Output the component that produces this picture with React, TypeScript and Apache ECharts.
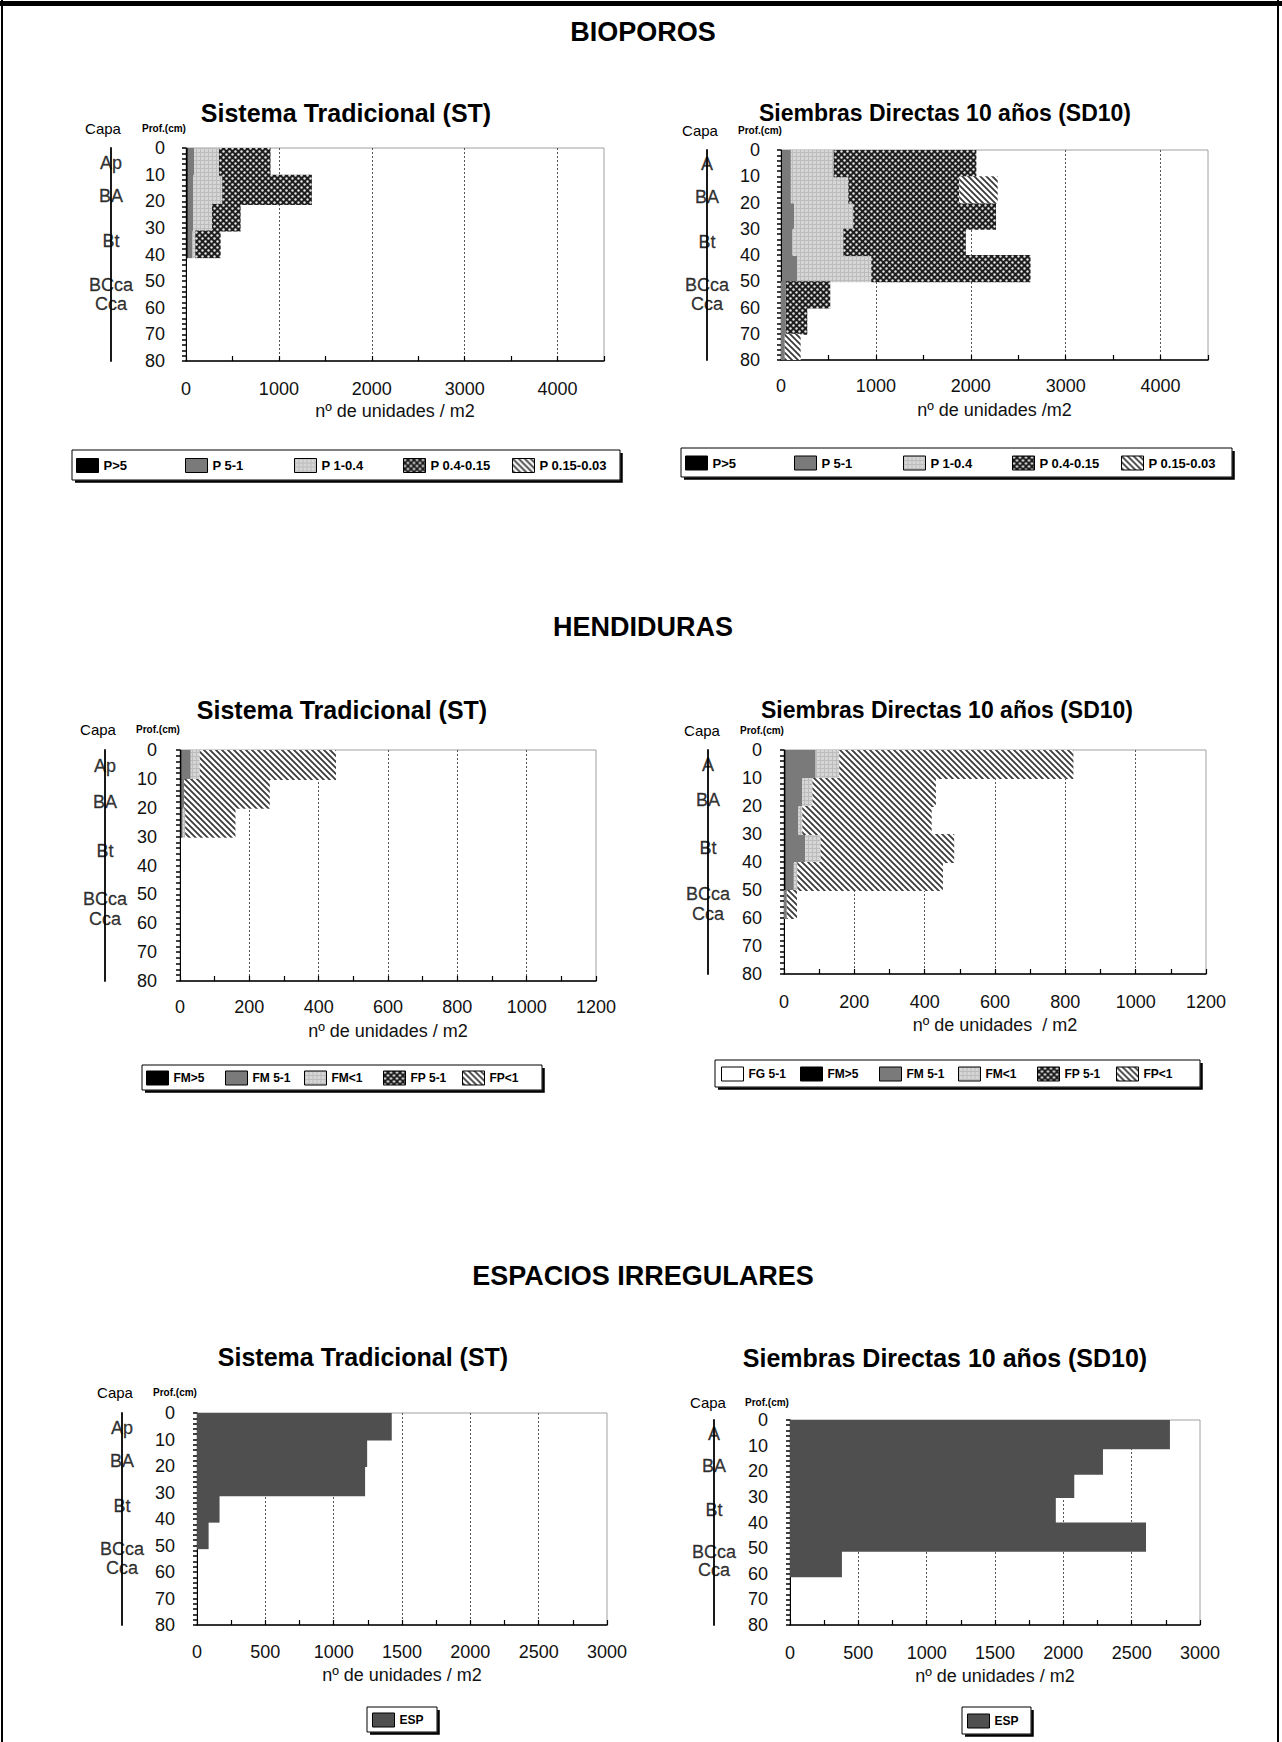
import React, { useEffect, useRef } from "react";
import * as echarts from "echarts";

const W = 1282;
const H = 1742;
const FONT = "Liberation Sans, Arial, sans-serif";

// ---------- DATA ----------
// depth boundaries (cm) of each interval
const bioST_depths = [0, 10, 21, 31, 41];
const bioSD_depths = [0, 10, 20, 30, 40, 50, 60, 70, 80];
const henST_depths = [0, 10, 20, 30];
const henSD_depths = [0, 10, 20, 30, 40, 50, 60];
const espST_depths = [0, 10, 20, 31, 41, 51];
const espSD_depths = [0, 11, 21, 30, 40, 51, 61];

// legend / series names
const bioNames = ["P>5", "P 5-1", "P 1-0.4", "P 0.4-0.15", "P 0.15-0.03"];
const henST_names = ["FM>5", "FM 5-1", "FM<1", "FP 5-1", "FP<1"];
const henSD_names = ["FG 5-1", "FM>5", "FM 5-1", "FM<1", "FP 5-1", "FP<1"];
const espNames = ["ESP"];

// BIOPOROS - Sistema Tradicional (segment widths per interval, n / m2)
const bioST_P5 = [20, 20, 20, 20];
const bioST_P51 = [66, 60, 60, 50];
const bioST_P104 = [269, 310, 200, 30];
const bioST_P04015 = [555, 965, 308, 273];
const bioST_P015003 = [0, 0, 0, 0];

// BIOPOROS - Siembras Directas 10 años
const bioSD_P5 = [10, 10, 10, 10, 10, 0, 0, 0];
const bioSD_P51 = [94, 94, 128, 111, 163, 50, 50, 40];
const bioSD_P104 = [450, 605, 623, 536, 778, 0, 0, 0];
const bioSD_P04015 = [1505, 1170, 1505, 1291, 1679, 469, 227, 0];
const bioSD_P015003 = [0, 405, 0, 0, 0, 0, 0, 167];

// HENDIDURAS - Sistema Tradicional
const henST_FM5 = [5, 5, 5];
const henST_FM51 = [26, 7, 3];
const henST_FMl1 = [26, 0, 7];
const henST_FP51 = [0, 0, 0];
const henST_FPl1 = [393, 247, 145];

// HENDIDURAS - Siembras Directas 10 años
const henSD_FG51 = [0, 0, 0, 0, 0, 0];
const henSD_FM5 = [5, 5, 5, 5, 5, 0];
const henSD_FM51 = [85, 47, 36, 55, 23, 8];
const henSD_FMl1 = [67, 29, 11, 44, 10, 0];
const henSD_FP51 = [0, 0, 0, 0, 0, 0];
const henSD_FPl1 = [666, 351, 368, 380, 414, 29];

// ESPACIOS IRREGULARES
const espST_ESP = [1425, 1245, 1230, 165, 85];
const espSD_ESP = [2780, 2290, 2080, 1945, 2605, 380];

// soil horizons (Capa) and their label depth
const capaST = ["Ap", "BA", "Bt", "BCca", "Cca"];
const capaSD = ["A", "BA", "Bt", "BCca", "Cca"];
const capaDepths = [5.5, 18, 35, 51.5, 58.5];

// axis tick labels
const depthTicks = [0, 10, 20, 30, 40, 50, 60, 70, 80];
const bioLabelStep = 1000;
const henLabelStep = 200;
const espLabelStep = 500;
const bioMax = 4500;
const henMax = 1200;
const espMax = 3000;

const sectionTitles = ["BIOPOROS", "HENDIDURAS", "ESPACIOS IRREGULARES"];
const titleST = "Sistema Tradicional (ST)";
const titleSD = "Siembras Directas 10 años (SD10)";
const xName = "nº de unidades / m2";
const xNameSD1 = "nº de unidades /m2";
const xNameSD2 = "nº de unidades  / m2";

// ---------- helpers ----------
function stackItems(depths: number[], seriesValues: number[][]) {
  const n = depths.length - 1;
  const acc = new Array(n).fill(0);
  return seriesValues.map((vals) => {
    const items: number[][] = [];
    for (let i = 0; i < n; i++) {
      const v = vals[i] || 0;
      if (v > 0) items.push([acc[i], depths[i], acc[i] + v, depths[i + 1]]);
      acc[i] += v;
    }
    return items;
  });
}

function tile(size: number, draw: (ctx: CanvasRenderingContext2D) => void) {
  const c = document.createElement("canvas");
  c.width = size;
  c.height = size;
  const ctx = c.getContext("2d") as CanvasRenderingContext2D;
  draw(ctx);
  return { image: c.toDataURL(), repeat: "repeat", imageWidth: size, imageHeight: size };
}

function buildOption() {
  const black = "#000000";
  const darkGray = "#7a7a7a";
  const white = "#ffffff";
  const espGray = "#4f4f4f";
  const light = tile(4, (ctx) => {
    ctx.fillStyle = "#d6d6d6";
    ctx.fillRect(0, 0, 4, 4);
    ctx.fillStyle = "#bcbcbc";
    ctx.fillRect(0, 0, 4, 1);
    ctx.fillRect(0, 0, 1, 4);
  });
  const check = tile(6, (ctx) => {
    ctx.fillStyle = "#1e1e1e";
    ctx.fillRect(0, 0, 6, 6);
    ctx.fillStyle = "#e6e6e6";
    [[1.5, 1.5], [4.5, 4.5]].forEach(([x, y]) => {
      ctx.beginPath();
      ctx.arc(x, y, 1.2, 0, Math.PI * 2);
      ctx.fill();
    });
  });
  const hatch = tile(6, (ctx) => {
    ctx.fillStyle = "#ffffff";
    ctx.fillRect(0, 0, 6, 6);
    ctx.strokeStyle = "#3a3a3a";
    ctx.lineWidth = 1.8;
    ctx.beginPath();
    ctx.moveTo(-1, -1);
    ctx.lineTo(7, 7);
    ctx.moveTo(-1, 5);
    ctx.lineTo(1, 7);
    ctx.moveTo(5, -1);
    ctx.lineTo(7, 1);
    ctx.stroke();
  });

  const bioFills = [black, darkGray, light, check, hatch];
  const henSTFills = [black, darkGray, light, check, hatch];
  const henSDFills = [white, black, darkGray, light, check, hatch];

  const charts = [
    {
      depths: bioST_depths, names: bioNames, fills: bioFills,
      values: [bioST_P5, bioST_P51, bioST_P104, bioST_P04015, bioST_P015003],
      capa: capaST, max: bioMax, step: bioLabelStep, title: titleST, xname: xName,
      L: { left: 186, top: 148, width: 418, height: 213, lblMargin: 19, nameGap: 41, yMargin: 21,
        capsX: 111, capaXY: [103, 128], profXY: [164, 128], titleXY: [346, 113], titleSize: 25,
        box: [72, 450, 548, 30], legLeft: 76, legStep: 109, legSize: 13 },
    },
    {
      depths: bioSD_depths, names: bioNames, fills: bioFills,
      values: [bioSD_P5, bioSD_P51, bioSD_P104, bioSD_P04015, bioSD_P015003],
      capa: capaSD, max: bioMax, step: bioLabelStep, title: titleSD, xname: xNameSD1,
      L: { left: 781, top: 150, width: 427, height: 210, lblMargin: 17, nameGap: 41, yMargin: 21,
        capsX: 707, capaXY: [700, 130], profXY: [760, 130], titleXY: [945, 113], titleSize: 23,
        box: [681, 448, 551, 29], legLeft: 685, legStep: 109, legSize: 13 },
    },
    {
      depths: henST_depths, names: henST_names, fills: henSTFills,
      values: [henST_FM5, henST_FM51, henST_FMl1, henST_FP51, henST_FPl1],
      capa: capaST, max: henMax, step: henLabelStep, title: titleST, xname: xName,
      L: { left: 180, top: 750, width: 416, height: 231, lblMargin: 17, nameGap: 41, yMargin: 23,
        capsX: 105, capaXY: [98, 729], profXY: [158, 729], titleXY: [342, 710], titleSize: 25,
        box: [142, 1065, 400, 25], legLeft: 146, legStep: 79, legSize: 12 },
    },
    {
      depths: henSD_depths, names: henSD_names, fills: henSDFills,
      values: [henSD_FG51, henSD_FM5, henSD_FM51, henSD_FMl1, henSD_FP51, henSD_FPl1],
      capa: capaSD, max: henMax, step: henLabelStep, title: titleSD, xname: xNameSD2,
      L: { left: 784, top: 750, width: 422, height: 224, lblMargin: 19, nameGap: 42, yMargin: 22,
        capsX: 708, capaXY: [702, 730], profXY: [762, 730], titleXY: [947, 710], titleSize: 23,
        box: [715, 1060, 485, 27], legLeft: 721, legStep: 79, legSize: 12 },
    },
    {
      depths: espST_depths, names: espNames, fills: [espGray],
      values: [espST_ESP],
      capa: capaST, max: espMax, step: espLabelStep, title: titleST, xname: xName,
      L: { left: 197, top: 1413, width: 410, height: 212, lblMargin: 18, nameGap: 41, yMargin: 22,
        capsX: 122, capaXY: [115, 1392], profXY: [175, 1392], titleXY: [363, 1357], titleSize: 25,
        box: [367, 1707, 70, 25], legLeft: 372, legStep: 60, legSize: 12 },
    },
    {
      depths: espSD_depths, names: espNames, fills: [espGray],
      values: [espSD_ESP],
      capa: capaSD, max: espMax, step: espLabelStep, title: titleSD, xname: xName,
      L: { left: 790, top: 1420, width: 410, height: 205, lblMargin: 19, nameGap: 42, yMargin: 22,
        capsX: 714, capaXY: [708, 1402], profXY: [767, 1402], titleXY: [945, 1358], titleSize: 25,
        box: [962, 1707, 69, 27], legLeft: 967, legStep: 60, legSize: 12 },
    },
  ];

  const grid: any[] = [];
  const xAxis: any[] = [];
  const yAxis: any[] = [];
  const series: any[] = [];
  const legend: any[] = [];
  const graphic: any[] = [];

  // frame
  graphic.push({ type: "rect", shape: { x: 0, y: 1, width: W, height: 5 }, style: { fill: "#000" }, z: 10 });
  graphic.push({ type: "rect", shape: { x: 1, y: 0, width: 2, height: H }, style: { fill: "#000" }, z: 10 });
  graphic.push({ type: "rect", shape: { x: 1277, y: 0, width: 2, height: H }, style: { fill: "#000" }, z: 10 });

  // section titles
  const secY = [32, 627, 1276];
  sectionTitles.forEach((t, i) => {
    graphic.push({
      type: "text", x: 643, y: secY[i], z: 10,
      style: { text: t, fill: "#000", font: `bold 27px ${FONT}`, align: "center", verticalAlign: "middle" },
    });
  });

  charts.forEach((c) => {
    const L = c.L;
    const gMain = grid.length;
    grid.push({ left: L.left, top: L.top, width: L.width, height: L.height, show: true,
      borderColor: "#a0a0a0", borderWidth: 1, backgroundColor: "#fff" });
    const gCaps = grid.length;
    grid.push({ left: L.capsX, top: L.top, width: 30, height: L.height, show: false });

    const xMain = xAxis.length;
    xAxis.push({
      gridIndex: gMain, type: "value", min: 0, max: c.max, interval: c.step / 2, position: "bottom",
      axisLine: { show: true, onZero: false, lineStyle: { color: "#000", width: 1.5 } },
      axisTick: { show: true, inside: true, length: 5, lineStyle: { color: "#000", width: 1.2 } },
      splitLine: { show: false },
      axisLabel: { fontSize: 18, color: "#111", margin: L.lblMargin, fontFamily: FONT,
        formatter: (v: number) => (v % c.step === 0 ? String(v) : "") },
      name: c.xname, nameLocation: "middle", nameGap: L.nameGap,
      nameTextStyle: { fontSize: 18, color: "#111", fontFamily: FONT },
    });
    xAxis.push({
      gridIndex: gMain, type: "value", min: 0, max: c.max, interval: c.step, position: "top",
      axisLine: { show: false }, axisTick: { show: false }, axisLabel: { show: false },
      splitLine: { show: true, showMinLine: false, showMaxLine: false, lineStyle: { color: "#555", type: [2, 2], width: 1 } },
    });
    const xCaps = xAxis.length;
    xAxis.push({ gridIndex: gCaps, type: "value", min: 0, max: 1, show: false });

    const yMain = yAxis.length;
    yAxis.push({
      gridIndex: gMain, type: "value", inverse: true, min: 0, max: 80, interval: 10,
      axisLine: { show: true, onZero: false, lineStyle: { color: "#000", width: 1 } },
      axisTick: { show: true, inside: false, length: 4, lineStyle: { color: "#000", width: 1.5 } },
      minorTick: { show: true, splitNumber: 5, length: 4, lineStyle: { color: "#000", width: 1.5 } },
      splitLine: { show: false },
      axisLabel: { fontSize: 18, color: "#111", margin: L.yMargin, fontFamily: FONT,
        formatter: (v: number) => (depthTicks.indexOf(v) >= 0 ? String(v) : "") },
    });
    const yCaps = yAxis.length;
    yAxis.push({
      gridIndex: gCaps, type: "value", inverse: true, min: 0, max: 80, position: "left",
      axisLine: { show: true, onZero: false, lineStyle: { color: "#000", width: 1.8 } },
      axisTick: { show: false }, axisLabel: { show: false }, splitLine: { show: false },
    });

    const stacked = stackItems(c.depths, c.values);
    stacked.forEach((items, si) => {
      const fill = c.fills[si];
      series.push({
        type: "custom", name: c.names[si], xAxisIndex: xMain, yAxisIndex: yMain,
        itemStyle: { color: fill }, silent: true, clip: true,
        encode: { x: [0, 2], y: [1, 3] },
        data: items,
        renderItem: (params: any, api: any) => {
          const a = api.coord([api.value(0), api.value(1)]);
          const b = api.coord([api.value(2), api.value(3)]);
          return {
            type: "rect",
            shape: { x: a[0], y: a[1], width: b[0] - a[0], height: b[1] - a[1] + 1 },
            style: { fill },
          };
        },
      });
    });

    series.push({
      type: "scatter", xAxisIndex: xCaps, yAxisIndex: yCaps, silent: true,
      symbolSize: 0, itemStyle: { color: "#000" },
      data: c.capa.map((n, i) => [0, capaDepths[i], n]),
      label: { show: true, position: "inside", formatter: (p: any) => p.value[2],
        fontSize: 18, color: "#000", fontFamily: FONT, textBorderColor: "#000", textBorderWidth: 0.3 },
    });

    // one legend component per entry so that entries are evenly spaced
    c.names.forEach((n, i) => {
      legend.push({
        left: L.legLeft + i * L.legStep, top: L.box[1] + L.box[3] / 2 - 7, orient: "horizontal", padding: 0,
        itemWidth: 22, itemHeight: 14, icon: "rect", selectedMode: false,
        textStyle: { fontSize: L.legSize, fontWeight: "bold", color: "#000", fontFamily: FONT },
        data: [{ name: n, itemStyle: { color: c.fills[i], borderColor: "#000", borderWidth: 1 } }],
      });
    });

    const [bx, by, bw, bh] = L.box;
    graphic.push({ type: "rect", shape: { x: bx, y: by, width: bw, height: bh },
      style: { fill: "#fff", stroke: "#000", lineWidth: 1 }, z: 1 });
    graphic.push({ type: "polyline", shape: { points: [[bx + 3, by + bh + 1.5], [bx + bw + 1.5, by + bh + 1.5], [bx + bw + 1.5, by + 3]] },
      style: { stroke: "#000", lineWidth: 2.5, fill: "none" }, z: 1 });

    graphic.push({ type: "text", x: L.titleXY[0], y: L.titleXY[1], z: 10,
      style: { text: c.title, fill: "#000", font: `bold ${L.titleSize}px ${FONT}`, align: "center", verticalAlign: "middle" } });
    graphic.push({ type: "text", x: L.capaXY[0], y: L.capaXY[1], z: 10,
      style: { text: "Capa", fill: "#000", font: `15px ${FONT}`, align: "center", verticalAlign: "middle" } });
    graphic.push({ type: "text", x: L.profXY[0], y: L.profXY[1], z: 10,
      style: { text: "Prof.(cm)", fill: "#000", font: `bold 10px ${FONT}`, align: "center", verticalAlign: "middle" } });
  });

  return {
    animation: false,
    backgroundColor: "#fff",
    textStyle: { fontFamily: FONT },
    grid, xAxis, yAxis, series, legend, graphic,
  };
}

export default function App() {
  const ref = useRef<HTMLDivElement>(null);
  useEffect(() => {
    if (!ref.current) return;
    const chart = echarts.init(ref.current, undefined, { renderer: "svg" });
    chart.setOption(buildOption() as any);
    return () => chart.dispose();
  }, []);
  return (
    <div
      ref={ref}
      style={{ position: "absolute", left: 0, top: 0, width: W, height: H, background: "#fff" }}
    />
  );
}
